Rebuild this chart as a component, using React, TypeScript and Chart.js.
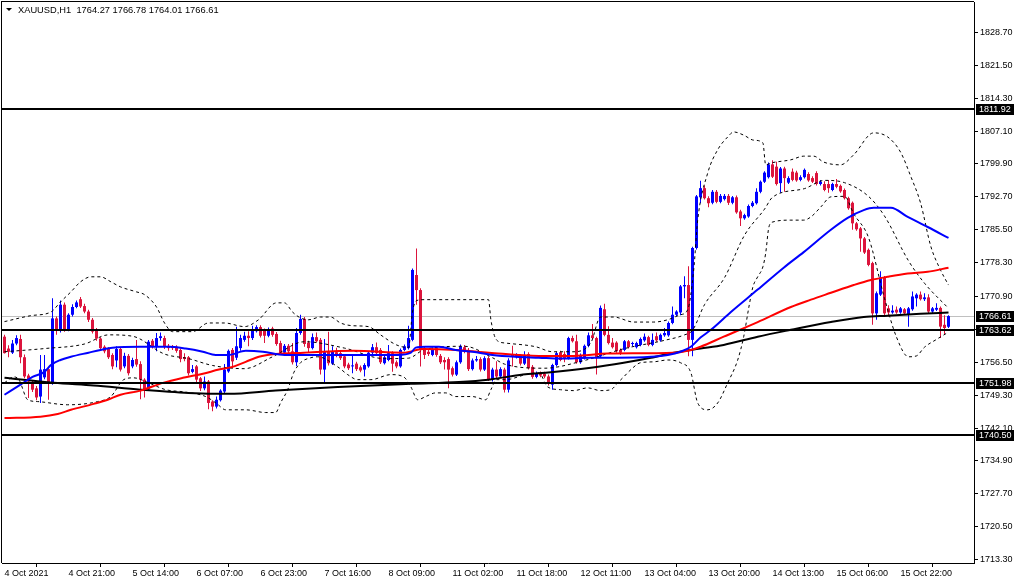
import React, { useEffect, useRef } from "react";
import { Chart, registerables } from "chart.js";
Chart.register(...registerables);

const symbolName = "XAUUSD,H1";
const xTickIndex = [0, 16, 32, 48, 64, 80, 96, 112, 128, 144, 160, 176, 192, 208, 224];
const xTickLabels = ["4 Oct 2021", "4 Oct 21:00", "5 Oct 14:00", "6 Oct 07:00", "6 Oct 23:00", "7 Oct 16:00", "8 Oct 09:00", "11 Oct 02:00", "11 Oct 18:00", "12 Oct 11:00", "13 Oct 04:00", "13 Oct 20:00", "14 Oct 13:00", "15 Oct 06:00", "15 Oct 22:00"];
const yTickValues = [1828.7, 1821.5, 1814.3, 1807.1, 1799.9, 1792.7, 1785.5, 1778.3, 1770.9, 1763.7, 1756.5, 1749.3, 1742.1, 1734.9, 1727.7, 1720.5, 1713.3];
const levelLines = [1811.92, 1763.62, 1751.98, 1740.5];
const bidPrice = 1766.61;

const opens = [
1762.1,1759.5,1758.6,1760.6,1761.6,1757.6,1753.6,1752.0,1750.8,1749.0,
1753.2,1755.0,1751.9,1766.1,1763.5,1769.1,1763.5,1766.9,1768.6,1770.3,
1768.8,1767.6,1765.8,1763.6,1761.7,1759.9,1759.4,1758.1,1756.9,1759.4,
1755.6,1757.9,1755.6,1757.2,1756.1,1752.7,1750.6,1761.2,1760.0,1761.8,
1761.8,1760.1,1759.9,1759.9,1759.2,1757.6,1757.6,1754.4,1755.6,1753.0,
1750.8,1752.3,1747.9,1746.8,1748.2,1750.1,1754.5,1759.2,1757.5,1759.6,
1761.4,1762.3,1761.8,1763.3,1764.2,1763.5,1762.3,1763.9,1762.7,1760.7,
1758.6,1760.1,1758.9,1756.5,1762.9,1766.0,1760.8,1759.6,1762.0,1761.4,
1754.9,1758.9,1756.2,1758.7,1758.5,1757.8,1756.0,1755.6,1756.2,1755.4,
1754.9,1755.6,1758.6,1759.8,1759.2,1756.3,1757.0,1758.5,1756.5,1755.6,
1759.2,1759.6,1761.4,1775.6,1772.3,1759.6,1758.8,1758.1,1759.6,1757.9,
1757.0,1757.2,1755.2,1753.8,1756.5,1759.8,1759.2,1755.0,1756.9,1757.2,
1754.9,1757.4,1752.8,1754.9,1753.4,1754.9,1750.5,1758.1,1757.6,1757.9,
1756.2,1758.3,1755.5,1753.3,1754.1,1754.0,1753.4,1751.6,1755.9,1758.7,
1758.3,1757.4,1761.8,1761.1,1756.5,1757.4,1760.1,1762.4,1761.8,1757.8,
1768.1,1762.5,1760.8,1760.8,1759.2,1759.2,1761.1,1760.5,1759.8,1760.3,
1761.3,1762.0,1760.3,1762.2,1761.3,1762.4,1762.4,1765.1,1766.9,1767.4,
1773.1,1773.4,1761.4,1781.5,1792.6,1794.6,1792.4,1791.4,1793.8,1791.6,
1792.2,1792.9,1791.4,1792.6,1789.5,1788.0,1788.4,1790.7,1791.3,1793.8,
1796.0,1797.0,1799.8,1799.3,1795.7,1798.9,1795.8,1798.2,1798.0,1796.4,
1797.0,1797.7,1796.8,1797.9,1795.5,1795.5,1795.5,1794.2,1795.5,1795.1,
1794.2,1792.4,1791.4,1786.9,1785.8,1783.6,1781.1,1778.2,1767.2,1771.3,
1775.1,1768.3,1767.4,1768.0,1767.4,1768.1,1766.9,1768.1,1770.5,1771.3,
1770.3,1770.7,1767.6,1768.0,1768.4,1764.7,1764.27
];
const highs = [
1762.5,1760.2,1761.4,1762.4,1762.5,1758.2,1754.0,1752.6,1751.3,1758.1,
1758.1,1755.3,1770.5,1766.5,1770.0,1769.6,1767.2,1769.2,1770.0,1770.8,
1769.3,1768.0,1766.2,1764.0,1762.0,1760.2,1759.8,1758.5,1760.0,1759.8,
1758.6,1758.3,1757.5,1761.4,1756.7,1753.0,1761.4,1761.6,1762.9,1763.0,
1762.3,1760.5,1760.3,1760.2,1759.5,1758.5,1757.9,1755.9,1755.9,1753.3,
1753.4,1752.6,1748.2,1749.0,1750.6,1756.1,1759.3,1759.6,1764.3,1762.5,
1763.2,1763.3,1764.5,1764.6,1764.6,1763.9,1764.1,1764.3,1763.1,1761.2,
1760.5,1760.5,1760.7,1764.0,1766.9,1766.4,1761.2,1762.8,1763.0,1761.8,
1761.6,1763.2,1760.0,1759.7,1758.9,1758.2,1756.4,1758.1,1756.6,1755.8,
1756.3,1758.9,1760.5,1760.8,1759.6,1757.9,1760.3,1758.9,1756.9,1759.5,
1760.4,1764.5,1777.0,1781.4,1772.7,1760.0,1759.2,1759.8,1760.0,1758.3,
1757.6,1757.6,1755.6,1756.9,1760.4,1760.3,1759.6,1757.3,1757.9,1757.6,
1757.8,1757.8,1755.3,1756.7,1755.4,1755.3,1757.4,1760.1,1758.5,1758.3,
1758.9,1758.7,1755.9,1754.5,1754.5,1754.4,1753.8,1756.2,1758.8,1759.0,
1758.9,1762.1,1762.3,1762.5,1758.4,1760.4,1763.0,1764.9,1762.1,1768.9,
1769.3,1764.4,1761.8,1761.1,1759.5,1761.4,1761.4,1761.0,1761.0,1761.9,
1762.8,1762.3,1762.8,1763.0,1762.8,1764.0,1765.4,1768.7,1767.9,1773.4,
1775.3,1777.5,1781.8,1793.1,1796.2,1795.2,1792.8,1794.2,1794.2,1793.3,
1793.3,1793.3,1792.9,1793.0,1789.9,1789.0,1791.0,1791.8,1794.6,1796.3,
1798.3,1800.2,1800.7,1800.4,1799.2,1799.3,1797.2,1798.9,1798.4,1797.4,
1798.9,1798.1,1797.2,1798.3,1796.4,1796.1,1796.4,1795.8,1796.6,1795.4,
1794.5,1792.7,1791.7,1787.2,1786.1,1783.9,1781.4,1778.5,1772.0,1776.4,
1775.4,1769.0,1769.0,1768.7,1768.6,1768.4,1768.6,1772.0,1771.6,1772.0,
1771.6,1771.4,1768.6,1769.4,1768.7,1766.8,1766.78
];
const lows = [
1758.4,1757.6,1758.3,1760.2,1756.3,1753.0,1748.7,1750.0,1748.2,1747.6,
1752.8,1748.3,1751.6,1762.5,1763.0,1763.2,1763.3,1766.5,1768.3,1768.4,
1767.2,1765.3,1762.8,1761.2,1759.0,1758.5,1757.2,1755.0,1755.4,1754.5,
1755.2,1753.6,1755.2,1755.5,1748.4,1748.8,1750.2,1759.5,1758.9,1761.2,
1759.4,1759.0,1759.2,1758.6,1756.5,1756.7,1753.6,1754.1,1752.2,1750.2,
1750.4,1746.2,1745.8,1746.4,1747.9,1749.6,1754.2,1755.2,1757.0,1759.0,
1761.0,1760.0,1761.4,1763.0,1761.9,1760.7,1762.0,1762.1,1760.1,1758.1,
1758.2,1758.5,1756.0,1755.7,1762.5,1759.9,1758.6,1759.3,1760.8,1753.8,
1751.8,1755.8,1755.9,1757.6,1757.0,1755.2,1754.8,1754.1,1754.6,1754.3,
1753.4,1755.3,1758.3,1758.1,1756.1,1756.0,1756.7,1754.4,1755.2,1755.3,
1758.9,1759.3,1761.1,1769.1,1755.6,1757.2,1757.9,1757.8,1757.7,1756.1,
1754.9,1750.8,1753.4,1753.5,1756.2,1758.5,1754.6,1754.7,1756.6,1754.5,
1754.6,1752.4,1752.3,1753.0,1753.1,1749.9,1749.9,1755.6,1757.3,1755.8,
1755.9,1754.9,1752.9,1753.0,1753.2,1753.0,1751.4,1750.5,1755.6,1756.7,
1756.5,1757.1,1760.8,1756.2,1756.2,1757.1,1759.8,1761.5,1753.8,1757.5,
1762.2,1760.4,1759.5,1758.6,1758.1,1758.9,1759.5,1760.0,1759.5,1760.0,
1761.0,1760.0,1760.0,1761.0,1761.0,1762.1,1762.1,1764.8,1766.6,1766.8,
1770.5,1757.8,1757.8,1781.2,1791.3,1792.1,1790.4,1791.1,1791.3,1791.3,
1791.9,1790.9,1791.1,1789.0,1786.3,1787.7,1788.1,1790.4,1791.0,1793.5,
1795.7,1796.7,1796.8,1795.2,1793.6,1793.8,1795.5,1796.1,1796.0,1796.1,
1796.7,1796.0,1795.7,1795.2,1795.2,1793.9,1793.6,1793.9,1794.6,1793.6,
1792.1,1789.9,1785.5,1785.3,1780.7,1780.2,1777.5,1764.7,1765.8,1771.0,
1766.5,1766.5,1767.1,1767.1,1767.1,1766.9,1764.3,1767.8,1768.7,1770.0,
1769.9,1767.3,1767.3,1767.7,1761.8,1762.5,1764.01
];
const closes = [
1758.5,1758.8,1760.6,1761.8,1757.6,1753.4,1752.3,1750.5,1748.8,1754.9,
1755.0,1751.9,1766.1,1763.6,1769.1,1763.6,1766.9,1768.6,1769.6,1768.7,
1767.6,1765.8,1763.2,1761.7,1759.6,1758.9,1757.6,1755.6,1759.4,1754.9,
1757.9,1754.1,1757.0,1756.0,1752.7,1750.4,1761.0,1760.0,1761.8,1762.2,
1760.0,1759.6,1759.6,1759.0,1757.2,1757.2,1754.1,1755.0,1752.7,1750.8,
1752.3,1747.6,1746.8,1748.3,1750.3,1754.9,1759.0,1756.7,1760.0,1761.8,
1762.3,1761.8,1763.7,1764.2,1762.3,1762.3,1763.7,1762.5,1760.5,1758.5,
1760.1,1758.9,1756.5,1762.9,1766.0,1760.5,1759.6,1762.0,1761.1,1754.9,
1758.9,1756.3,1758.9,1757.9,1757.4,1755.6,1755.2,1755.7,1755.0,1754.7,
1755.9,1758.6,1759.8,1758.5,1756.5,1757.6,1758.5,1756.2,1755.6,1759.2,
1760.0,1761.8,1776.7,1772.3,1759.2,1758.1,1758.3,1759.4,1758.1,1756.5,
1756.5,1754.9,1753.8,1756.5,1760.0,1758.9,1755.0,1756.9,1757.2,1754.9,
1757.4,1752.8,1754.9,1753.4,1755.0,1750.5,1756.9,1757.7,1758.1,1756.2,
1758.1,1755.2,1753.3,1754.1,1753.6,1753.4,1751.8,1755.9,1758.5,1757.0,
1757.4,1761.8,1761.1,1756.5,1758.1,1760.1,1762.4,1761.8,1757.4,1768.4,
1762.5,1760.7,1759.8,1758.9,1758.6,1761.1,1759.8,1760.7,1760.7,1761.6,
1762.1,1760.3,1761.4,1761.3,1762.5,1762.9,1765.1,1766.9,1767.6,1773.1,
1773.4,1761.4,1781.5,1792.8,1794.6,1792.4,1791.3,1793.8,1791.6,1792.9,
1792.9,1791.4,1792.6,1789.3,1788.0,1788.7,1790.7,1791.4,1793.8,1796.0,
1798.0,1799.8,1797.1,1795.5,1798.9,1796.8,1796.8,1796.4,1796.3,1797.0,
1798.6,1796.3,1796.0,1795.5,1796.0,1794.2,1794.6,1795.5,1794.9,1793.9,
1792.4,1790.2,1786.9,1785.6,1783.6,1780.5,1777.8,1767.2,1771.6,1775.1,
1767.2,1767.4,1767.8,1767.4,1768.3,1767.2,1768.3,1770.9,1771.3,1770.3,
1770.7,1767.6,1768.3,1768.4,1764.3,1764.0,1766.61
];

// indicator lines: [bar index, price]
const maBlue = [[0,1749.4],[4,1751.6],[7,1753.3],[10,1754.4],[11.6,1755.9],[14,1757.0],[16.6,1757.7],[21,1758.6],[24,1759.2],[27,1759.7],[34,1759.9],[41,1759.9],[45.3,1759.5],[49.6,1758.8],[52.8,1758.1],[56,1758.1],[60.3,1759.0],[64.6,1758.8],[70,1758.1],[83.3,1758.1],[91.6,1758.1],[98.3,1758.1],[101.6,1758.6],[102.8,1759.7],[105.3,1759.9],[108.6,1759.9],[112.8,1759.2],[117,1758.8],[122,1758.1],[127.8,1757.7],[133.6,1757.5],[139,1757.3],[146.6,1757.5],[153.3,1757.5],[161.6,1757.7],[165.8,1758.1],[169,1758.8],[171.6,1759.9],[174,1761.9],[176.6,1763.6],[181.6,1767.5],[188.3,1772.4],[194.8,1777.2],[199.8,1780.6],[206.6,1785.5],[210.8,1788.1],[214.8,1789.8],[217.3,1790.3],[221.6,1790.3],[225.8,1788.3],[230.8,1786.1],[236,1783.7]];
const maRed = [[0,1744.3],[9,1744.6],[13.3,1745.2],[16.6,1746.1],[22.3,1747.4],[25.8,1748.3],[29,1749.4],[34,1750.3],[39.6,1752.0],[44.6,1753.1],[49.6,1754.0],[53.6,1754.9],[57,1755.5],[60.3,1756.6],[63.6,1757.7],[67.8,1758.3],[74.8,1758.6],[87.3,1759.0],[99.8,1758.6],[104.6,1759.4],[112.8,1759.2],[121.1,1758.6],[133.6,1757.9],[142.3,1757.9],[150.8,1758.4],[167.3,1758.6],[171.6,1759.2],[174,1759.9],[179.8,1762.1],[188.3,1765.3],[196.6,1768.6],[201.6,1770.2],[206.6,1771.7],[212.3,1773.4],[216.6,1774.5],[220.8,1775.2],[225.8,1775.9],[230.8,1776.3],[236,1777.2]];
const maBlack = [[0,1753.1],[12.3,1752.0],[22.3,1751.4],[34,1750.5],[46,1749.8],[56,1749.6],[67.8,1750.3],[83.3,1751.1],[101.6,1751.8],[113.6,1752.2],[121,1752.7],[129.6,1753.8],[135.3,1754.2],[146.6,1755.3],[154.8,1756.4],[161.6,1757.5],[167.3,1758.6],[174,1759.5],[179.8,1760.3],[188.3,1762.1],[196.6,1763.6],[206.6,1765.3],[214.8,1766.4],[220.8,1766.7],[229,1767.1],[236,1767.4]];
const bbUpper = [[0,1765.4],[6.6,1766.7],[11.6,1767.5],[14,1769.7],[16.6,1771.9],[19,1774.1],[21.6,1775.2],[24,1775.2],[26.6,1774.1],[29,1773.0],[33,1771.9],[35,1771.3],[38,1768.6],[40,1765.1],[42,1763.2],[47,1763.2],[51,1765.1],[55,1765.1],[60,1764.3],[63.5,1765.8],[68,1769.5],[70,1769.5],[72,1767.5],[74,1766.2],[76,1765.8],[79,1766.4],[81.5,1766.4],[84,1765.1],[87,1764.5],[91,1764.3],[94,1762.5],[98,1760.3],[101,1759.7],[102,1767.5],[103,1770.0],[105,1770.2],[121,1770.2],[121.6,1765.8],[123,1761.4],[125.3,1760.7],[132.8,1759.9],[137,1758.8],[142,1758.8],[146.6,1760.8],[149,1766.4],[152.3,1766.4],[157.3,1765.3],[162.3,1765.3],[165.8,1765.8],[169,1766.9],[170.8,1768.0],[172.3,1776.7],[173.3,1787.6],[175.8,1797.9],[178.3,1803.0],[180.8,1805.8],[182.3,1806.9],[184.8,1806.2],[187.3,1805.1],[189.6,1804.5],[190.3,1799.7],[191.6,1800.1],[196.6,1800.8],[199.8,1801.6],[202.3,1801.6],[204.8,1800.3],[209,1799.7],[212.3,1801.9],[217.3,1806.7],[220.8,1805.8],[224,1802.5],[226.6,1797.1],[229,1791.4],[231.6,1781.8],[234,1776.7],[236,1773.4]];
const bbMiddle = [[0,1758.8],[10,1759.5],[20,1760.5],[26,1762.5],[32,1762.2],[40,1758.3],[46,1757.3],[52,1755.8],[60,1755.1],[67,1757.7],[75,1761.0],[85,1759.6],[95,1757.3],[101,1757.4],[105,1759.3],[115,1760.0],[122,1757.5],[125,1756.1],[135,1755.2],[145,1756.9],[155,1759.5],[165,1761.3],[170,1762.5],[172,1763.5],[175,1769.1],[180,1775.0],[185,1784.3],[190,1790.0],[192,1792.6],[200,1794.5],[205,1796.3],[210,1795.8],[216,1792.8],[220,1788.5],[226,1778.7],[230,1773.8],[236,1768.3]];
const bbLower = [[0,1752.0],[2.3,1753.3],[3.6,1752.7],[5.8,1748.3],[8.3,1747.9],[15.8,1747.2],[23.3,1747.9],[26.6,1749.0],[29.8,1752.7],[32.3,1753.1],[36,1752.0],[40.3,1750.5],[45,1750.0],[50.3,1749.0],[53,1747.5],[55.3,1746.1],[60.3,1746.1],[65.3,1745.5],[67.8,1745.5],[69,1747.6],[70.8,1750.5],[72.3,1754.2],[74,1756.4],[76.6,1757.5],[78.3,1757.7],[83.3,1755.5],[85.8,1753.8],[88.3,1752.7],[91.6,1752.7],[96.6,1753.8],[99.8,1753.3],[101.6,1751.1],[103.3,1748.3],[105.3,1749.0],[107.8,1749.8],[110.3,1749.8],[112.8,1749.0],[117,1749.0],[120.3,1748.3],[121.6,1750.5],[123,1752.7],[125.3,1752.7],[130.3,1753.8],[133.6,1754.2],[135.8,1751.1],[139,1750.5],[142.3,1750.3],[145.8,1750.9],[149,1750.3],[151.6,1750.5],[153.3,1752.0],[154.8,1753.3],[156.6,1754.9],[159,1756.4],[162.3,1756.6],[165.8,1757.0],[169,1756.4],[171.6,1754.2],[173.3,1747.6],[175.8,1746.1],[178.3,1747.6],[180.8,1752.0],[183.3,1757.0],[184.8,1762.1],[186.1,1768.6],[187.1,1773.0],[188.3,1775.2],[189.6,1777.4],[190.3,1780.4],[191.1,1786.1],[192.1,1787.2],[196.6,1787.6],[199.8,1787.6],[201.6,1788.3],[204.1,1790.5],[206.6,1792.7],[210,1792.8],[212.3,1789.0],[216,1783.8],[220,1770.5],[223,1762.0],[226,1757.7],[228,1757.9],[230,1759.8],[233,1761.5],[236,1763.1]];

const BULL = "#0000ff";
const BEAR = "#dc143c";
const FONT = "'Liberation Sans', Arial, sans-serif";

const toPts = (arr: number[][]) => arr.map(([x, y]) => ({ x, y }));

export default function App() {
  const ref = useRef<HTMLCanvasElement>(null);
  useEffect(() => {
    const canvas = ref.current;
    if (!canvas) return;
    const idx = closes.map((_, i) => i);
    const colors = closes.map((c, i) => (c >= opens[i] ? BULL : BEAR));
    const last = closes.length - 1;
    const header = `${symbolName}  ${opens[last].toFixed(2)} ${highs[last].toFixed(2)} ${lows[last].toFixed(2)} ${closes[last].toFixed(2)}`;

    const overlay = {
      id: "overlay",
      beforeDatasetsDraw(chart: any) {
        const { ctx, chartArea: a, scales } = chart;
        const y = Math.round(scales.y.getPixelForValue(bidPrice)) + 0.5;
        ctx.save();
        ctx.strokeStyle = "#c0c0c0";
        ctx.lineWidth = 1;
        ctx.beginPath();
        ctx.moveTo(a.left, y);
        ctx.lineTo(a.right, y);
        ctx.stroke();
        ctx.restore();
      },
      afterDatasetsDraw(chart: any) {
        const { ctx, chartArea: a, scales } = chart;
        ctx.save();
        ctx.fillStyle = "#000";
        levelLines.forEach((v) => {
          const y = Math.round(scales.y.getPixelForValue(v));
          ctx.fillRect(a.left, y - 1, a.right - a.left, 2);
        });
        ctx.restore();
      },
      afterDraw(chart: any) {
        const { ctx, chartArea: a, scales } = chart;
        ctx.save();
        // frame left & top
        ctx.fillStyle = "#000";
        ctx.fillRect(a.left - 1, a.top - 1, 1, a.bottom - a.top + 1);
        ctx.fillRect(a.left - 1, a.top - 1, a.right - a.left + 1, 1);
        // price boxes
        ctx.font = `9px ${FONT}`;
        ctx.textBaseline = "middle";
        ctx.textAlign = "left";
        [...levelLines, bidPrice].forEach((v) => {
          const y = Math.round(scales.y.getPixelForValue(v));
          ctx.fillStyle = "#000";
          ctx.fillRect(a.right + 2, y - 5, 38, 11);
          ctx.fillStyle = "#fff";
          ctx.fillText(v.toFixed(2), a.right + 5, y + 0.5);
        });
        // header
        ctx.fillStyle = "#000";
        ctx.beginPath();
        ctx.moveTo(6, 8);
        ctx.lineTo(12, 8);
        ctx.lineTo(9, 11);
        ctx.closePath();
        ctx.fill();
        ctx.font = `9.3px ${FONT}`;
        ctx.fillStyle = "#000";
        ctx.fillText(header, 18, 10.5);
        ctx.restore();
      },
    };

    const line = (data: number[][], color: string, width: number, order: number, dash?: number[]) => ({
      type: "line" as const,
      data: toPts(data),
      borderColor: color,
      borderWidth: width,
      borderDash: dash || [],
      pointRadius: 0,
      fill: false,
      cubicInterpolationMode: "monotone" as const,
      order,
    });

    const chart = new Chart(canvas, {
      type: "bar",
      data: {
        datasets: [
          {
            type: "bar",
            data: idx.map((i) => ({ x: i, y: [lows[i], highs[i]] })) as any,
            backgroundColor: colors,
            barThickness: 1,
            grouped: false,
            borderWidth: 0,
            inflateAmount: 0,
            order: 20,
          } as any,
          {
            type: "bar",
            data: idx.map((i) => ({ x: i, y: [opens[i], closes[i]] })) as any,
            backgroundColor: colors,
            barThickness: 3,
            grouped: false,
            borderWidth: 0,
            minBarLength: 1,
            inflateAmount: 0,
            order: 19,
          } as any,
          line(bbUpper, "#000", 1, 6, [3, 3]) as any,
          line(bbMiddle, "#000", 1, 6, [3, 3]) as any,
          line(bbLower, "#000", 1, 6, [3, 3]) as any,
          line(maBlack, "#000", 2, 3) as any,
          line(maRed, "#ff0000", 2, 2) as any,
          line(maBlue, "#0000ff", 2, 1) as any,
        ],
      },
      options: {
        responsive: false,
        animation: false,
        devicePixelRatio: 1,
        layout: { padding: { left: 2, top: 2, right: 0, bottom: 0 } },
        plugins: { legend: { display: false }, tooltip: { enabled: false } },
        font: { family: FONT, size: 9 },
        scales: {
          x: {
            type: "linear",
            position: "bottom",
            min: -0.625,
            max: 242.375,
            offset: false,
            grid: { drawOnChartArea: false, drawTicks: true, tickLength: 4, tickColor: "#000", color: "#000" },
            border: { display: true, color: "#000", width: 1 },
            ticks: {
              autoSkip: false,
              maxRotation: 0,
              minRotation: 0,
              align: "start",
              padding: 1,
              color: "#000",
              font: { family: FONT, size: 9 },
              callback: (_v: any, i: number) => xTickLabels[i] ?? "",
            },
            afterBuildTicks: (s: any) => {
              s.ticks = xTickIndex.map((v) => ({ value: v }));
            },
            afterFit: (s: any) => {
              s.height = 21;
              s.paddingLeft = 0;
              s.paddingRight = 0;
            },
          },
          y: {
            type: "linear",
            position: "right",
            min: 1712.58,
            max: 1835.33,
            grid: { drawOnChartArea: false, drawTicks: true, tickLength: 4, tickColor: "#000", color: "#000" },
            border: { display: true, color: "#000", width: 1 },
            ticks: {
              autoSkip: false,
              padding: 2,
              color: "#000",
              font: { family: FONT, size: 9 },
              callback: (v: any) => Number(v).toFixed(2),
            },
            afterBuildTicks: (s: any) => {
              s.ticks = yTickValues.map((v) => ({ value: v }));
            },
            afterFit: (s: any) => {
              s.width = 46;
              s.paddingTop = 0;
              s.paddingBottom = 0;
            },
          },
        },
      } as any,
      plugins: [overlay],
    });
    return () => chart.destroy();
  }, []);

  return (
    <div style={{ position: "fixed", left: 0, top: 0, width: 1020, height: 584, background: "#fff" }}>
      <canvas ref={ref} width={1020} height={584} style={{ display: "block", width: 1020, height: 584 }} />
    </div>
  );
}
